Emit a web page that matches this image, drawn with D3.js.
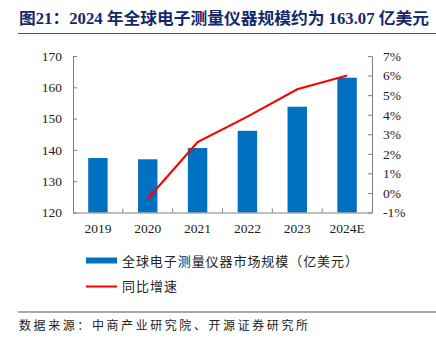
<!DOCTYPE html>
<html>
<head>
<meta charset="utf-8">
<script src="https://cdn.jsdelivr.net/npm/d3@7"></script>
<style>
  body { margin: 0; background: #fff; }
  svg { display: block; }
</style>
</head>
<body>
<script>
// data
var years = ["2019", "2020", "2021", "2022", "2023", "2024E"];
var marketSize = [137.4, 137.0, 140.6, 146.1, 153.8, 163.07];
var growth = [null, -0.3, 2.6, 3.9, 5.3, 6.0];
var leftTicks = [120, 130, 140, 150, 160, 170];
var rightTicks = [-1, 0, 1, 2, 3, 4, 5, 6, 7];

var W = 436, H = 341;
var serif = "'Liberation Serif', 'Times New Roman', 'Noto Serif CJK SC', 'Noto Sans CJK SC', serif";
var cjk = "'Liberation Serif', 'Noto Sans CJK SC', sans-serif";

var svg = d3.select("body").append("svg").attr("width", W).attr("height", H);

// title
svg.append("text")
    .attr("x", 19).attr("y", 24)
    .attr("font-family", cjk)
    .attr("font-weight", "bold")
    .attr("font-size", 16)
    .attr("fill", "#15286a")
    .attr("textLength", 410)
    .attr("lengthAdjust", "spacingAndGlyphs")
    .text("图21：2024 年全球电子测量仪器规模约为 163.07 亿美元");

svg.append("line")
    .attr("x1", 18).attr("x2", 436).attr("y1", 33.5).attr("y2", 33.5)
    .attr("stroke", "#555").attr("stroke-width", 1);

var plotLeft = 73, plotRight = 372, plotTop = 56, plotBottom = 212.5;

var x = d3.scaleBand().domain(years).range([plotLeft, plotRight]).paddingInner(0.61).paddingOuter(0.305);
var xOuter = d3.scaleBand().domain(years).range([plotLeft, plotRight]);
var yL = d3.scaleLinear().domain([120, 170]).range([plotBottom, plotTop]);
var yR = d3.scaleLinear().domain([-1, 7]).range([plotBottom, plotTop]);

// bars
svg.append("g").selectAll("rect")
    .data(marketSize)
    .enter()
    .append("rect")
    .attr("x", function (d, i) { return x(years[i]); })
    .attr("width", x.bandwidth())
    .attr("y", function (d) { return yL(d); })
    .attr("height", function (d) { return yL(120) - yL(d); })
    .attr("fill", "#0070c0");

// growth line
var line = d3.line()
    .defined(function (d) { return d != null; })
    .x(function (d, i) { return xOuter(years[i]) + xOuter.bandwidth() / 2; })
    .y(function (d) { return yR(d); });

svg.append("path")
    .datum(growth)
    .attr("d", line)
    .attr("fill", "none")
    .attr("stroke", "#ff0000")
    .attr("stroke-width", 2.2);

var axisColor = "#808080";

// left axis
var gL = svg.append("g").attr("transform", "translate(" + plotLeft + ",0)")
    .call(d3.axisLeft(yL).tickValues(leftTicks).tickSizeInner(-4).tickSizeOuter(0).tickPadding(11));
// right axis
var gR = svg.append("g").attr("transform", "translate(" + plotRight + ",0)")
    .call(d3.axisRight(yR).tickValues(rightTicks).tickSizeInner(-4).tickSizeOuter(0).tickPadding(11)
        .tickFormat(function (d) { return d + "%"; }));
// bottom axis
var gB = svg.append("g").attr("transform", "translate(0," + plotBottom + ")")
    .call(d3.axisBottom(xOuter).tickSize(0).tickPadding(11));

gB.selectAll(".sep")
    .data(years.slice(1))
    .enter()
    .append("line")
    .attr("x1", function (d) { return xOuter(d); })
    .attr("x2", function (d) { return xOuter(d); })
    .attr("y1", 0).attr("y2", -4)
    .attr("stroke", axisColor);

[gL, gR, gB].forEach(function (g) {
    g.selectAll("path, line").attr("stroke", axisColor);
    g.selectAll("text")
        .attr("font-family", serif)
        .attr("font-size", 13.5)
        .attr("fill", "#222");
});

// legend
svg.append("rect")
    .attr("x", 86).attr("y", 257.5).attr("width", 31).attr("height", 6)
    .attr("fill", "#0070c0");
svg.append("text")
    .attr("x", 122).attr("y", 265.5)
    .attr("font-family", cjk).attr("font-size", 13).attr("fill", "#222")
    .attr("textLength", 236).attr("lengthAdjust", "spacing")
    .text("全球电子测量仪器市场规模（亿美元）");

svg.append("line")
    .attr("x1", 86).attr("x2", 117).attr("y1", 286.5).attr("y2", 286.5)
    .attr("stroke", "#ff0000").attr("stroke-width", 2);
svg.append("text")
    .attr("x", 122).attr("y", 291)
    .attr("font-family", cjk).attr("font-size", 13).attr("fill", "#222")
    .attr("textLength", 55).attr("lengthAdjust", "spacing")
    .text("同比增速");

// footer
svg.append("line")
    .attr("x1", 18).attr("x2", 436).attr("y1", 312).attr("y2", 312)
    .attr("stroke", "#555").attr("stroke-width", 1);
svg.append("text")
    .attr("x", 19).attr("y", 330)
    .attr("font-family", cjk).attr("font-size", 12).attr("fill", "#222")
    .attr("textLength", 289).attr("lengthAdjust", "spacing")
    .text("数据来源：中商产业研究院、开源证券研究所");
</script>
</body>
</html>
